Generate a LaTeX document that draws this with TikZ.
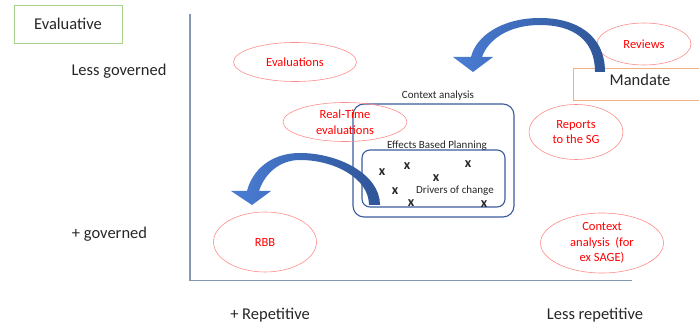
\documentclass[tikz,border=0pt]{standalone}
\usepackage{fontspec}
\setmainfont{Carlito}
\usepackage{xcolor}
\usetikzlibrary{shapes.geometric}
\definecolor{ink}{HTML}{262626}
\definecolor{axisgray}{HTML}{8497B0}
\definecolor{boxblue}{HTML}{3A5C9C}
\definecolor{ovalred}{HTML}{FF8C8C}
\definecolor{txtred}{HTML}{FF0000}
\definecolor{evgreen}{HTML}{A9D18E}
\definecolor{mandorange}{HTML}{F4B183}
\definecolor{arrowlight}{HTML}{4A7DD4}
\definecolor{arrowdark}{HTML}{2F5597}

\begin{document}
\begin{tikzpicture}[x=1pt, y=1pt,
  lab/.style={font=\fontsize{16.5}{19}\selectfont, text=ink, inner sep=0pt},
  note/.style={font=\fontsize{11}{13}\selectfont, text=ink, inner sep=0pt},
  oval/.style={draw=ovalred, ellipse, line width=0.6pt, align=center, text=txtred, inner sep=0pt, font=\fontsize{12.5}{15.5}\selectfont},
  ctx/.style={draw=boxblue, line width=1.1pt},
  xmark/.style={font=\bfseries\fontsize{14}{14}\selectfont, text=ink, inner sep=0pt},
  axis/.style={draw=axisgray, line width=1.5pt},
  bigarrow/.style={draw=none, left color=arrowlight, right color=arrowdark}]
\useasboundingbox (0,0) rectangle (699,324);
% axis labels
\node[draw=evgreen, line width=0.8pt, minimum width=108pt, minimum height=38pt, lab] (evaluative) at (68,300) {Evaluative};
\node[lab] (lessgov) at (119,253) {Less governed};
\node[lab] (plusgov) at (109.5,90) {+ governed};
\node[lab] (plusrep) at (270,9) {+ Repetitive};
\node[lab] (lessrep) at (595,9) {Less repetitive};
\coordinate (ytop) at (190,310);
\coordinate (orig) at (190,43.5);
\coordinate (xend) at (632,43.5);
\draw[axis] (ytop) -- (orig) -- (xend);
% context boxes
\node[ctx, rounded corners=11pt, minimum width=161pt, minimum height=113pt] (outer) at (433.5,163.5) {};
\node[ctx, rounded corners=8pt, minimum width=143pt, minimum height=57pt] (inner) at (433.5,145.5) {};
\node[note] (ctxlabel) at (438,228) {Context analysis};
\node[note] (ebp) at (437,178) {Effects Based Planning};
\node[note] (drivers) at (455,133) {Drivers of change};
\foreach \px/\py [count=\i] in {382/152, 407/158, 468/160, 436/146, 395/133, 411/121, 484/119.5}
  \node[xmark] (x\i) at (\px,\py) {x};
% instruments
\node[oval, minimum width=123pt, minimum height=39pt] (evals) at (295,262) {Evaluations};
\node[oval, minimum width=124pt, minimum height=39pt] (rte) at (345,202) {Real-Time\\evaluations};
\node[oval, minimum width=94pt, minimum height=42pt] (reviews) at (644,280) {Reviews};
\node[oval, minimum width=94pt, minimum height=55pt] (reports) at (576,192) {Reports\\to the SG};
\node[oval, minimum width=103pt, minimum height=60pt] (rbb) at (265,82) {RBB};
\node[oval, minimum width=123pt, minimum height=60pt] (sage) at (602,81) {Context\\analysis~ (for\\ex SAGE)};
\node[draw=mandorange, line width=0.8pt, minimum width=134pt, minimum height=32pt, lab, text depth=8pt] (mandate) at (640,240) {Mandate};
% curved arrows
\path[bigarrow] (605,252) .. controls (605,290) and (575,306) .. (540,306)
  .. controls (502,306) and (476,288) .. (471,267) -- (453,267) -- (473,252) -- (493,267) -- (482,267)
  .. controls (488,284) and (508,299) .. (540,299)
  .. controls (572,299) and (595,285) .. (595,252) -- cycle;
\path[bigarrow] (380,119) .. controls (380,150) and (338,171) .. (300,171)
  .. controls (270,171) and (252,153) .. (247,133) -- (231,133) -- (252,119) -- (271,133) -- (259,133)
  .. controls (265,151) and (280,164) .. (300,164)
  .. controls (334,164) and (369,146) .. (369,119) -- cycle;
\end{tikzpicture}
\end{document}
